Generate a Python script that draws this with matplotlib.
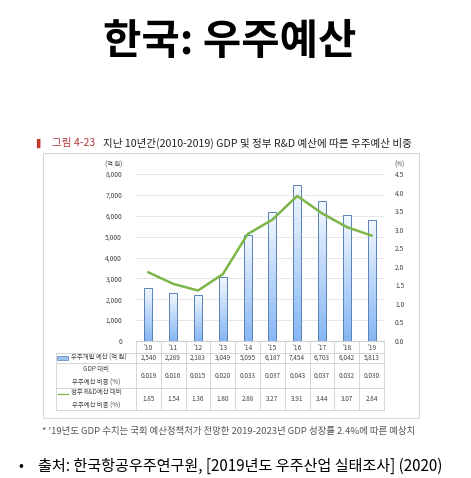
import numpy as np
import matplotlib
matplotlib.use('Agg')
import matplotlib.pyplot as plt
from matplotlib.colors import LinearSegmentedColormap
from matplotlib.patches import Rectangle
from matplotlib.lines import Line2D
import matplotlib.transforms as mtrans

plt.rcParams['font.family'] = ['Noto Sans CJK KR', 'DejaVu Sans']

# --- du lieu ---
years = ["'10", "'11", "'12", "'13", "'14", "'15", "'16", "'17", "'18", "'19"]
budget = [2540, 2289, 2183, 3049, 5095, 6187, 7454, 6703, 6042, 5813]
budget_txt = ['2,540', '2,289', '2,183', '3,049', '5,095', '6,187', '7,454', '6,703', '6,042', '5,813']
gdp_share = ['0.019', '0.016', '0.015', '0.020', '0.033', '0.037', '0.043', '0.037', '0.032', '0.030']
rd_share = [1.85, 1.54, 1.36, 1.80, 2.88, 3.27, 3.91, 3.44, 3.07, 2.84]
row_labels = ['우주개발 예산 (억 원)', 'GDP 대비\n우주예산 비중 (%)', '정부 R&D예산 대비\n우주예산 비중 (%)']

W, H = 471, 478
fig = plt.figure(figsize=(W / 100, H / 100), dpi=100)

def fx(x): return x / W
def fy(y): return 1 - y / H

# tieu de
fig.text(0.487, fy(42), '한국: 우주예산', ha='center', va='center', fontsize=30, fontweight='bold')

# khung bieu do
fig.patches.append(Rectangle((fx(43), fy(418)), fx(419) - fx(43), fy(153) - fy(418),
                             transform=fig.transFigure, fill=False, ec='#d9d9d9', lw=0.8))
fig.text(fx(36), fy(143), '▌', color='#c0392b', fontsize=6.5, va='center', ha='left',
         family=['DejaVu Sans'])
fig.text(fx(52), fy(143), '그림 4-23', color='#b03a3a', fontsize=7.6, va='center', ha='left')
fig.text(fx(103), fy(143), '지난 10년간(2010-2019) GDP 및 정부 R&D 예산에 따른 우주예산 비중',
         color='#222222', fontsize=7.6, va='center', ha='left')

ax = fig.add_axes([fx(136), fy(341), fx(384) - fx(136), fy(174) - fy(341)])
x = np.arange(len(years))
bars = ax.bar(x, budget, width=0.33, color='none', edgecolor='#5b82b5', lw=0.7, zorder=3)
ax.set_ylim(0, 8000)
ax.set_yticks(np.arange(0, 8001, 1000))
ax.set_yticklabels([f'{v:,}' for v in range(0, 8001, 1000)], fontsize=4.8, color='#444444')
ax.yaxis.grid(True, color='#e6e6e6', lw=0.7)
ax.set_axisbelow(True)
for s in ['top', 'right', 'left']:
    ax.spines[s].set_visible(False)
ax.spines['bottom'].set_color('#cfcfcf')
ax.tick_params(axis='y', length=0, pad=10)
ax.set_xticks(x)
ax.set_xticklabels(years, fontsize=4.8, color='#444444')
ax.tick_params(axis='x', length=0, pad=2)

# to mau gradient cho cot
cmap = LinearSegmentedColormap.from_list('g', ['#86b7f4', '#f3f8ff'])
grad = np.linspace(0, 1, 100).reshape(-1, 1)
for b in bars:
    bx, by, bw, bh = b.get_x(), b.get_y(), b.get_width(), b.get_height()
    im = ax.imshow(grad, cmap=cmap, origin='lower', aspect='auto',
                   extent=[bx, bx + bw, by, by + bh], zorder=2)
    im.set_clip_path(b)
ax.set_xlim(-0.5, len(years) - 0.5)
ax.set_ylim(0, 8000)

ax2 = ax.twinx()
ax2.plot(x, rd_share, color='#7cb548', lw=1.8, zorder=4)
ax2.set_ylim(0, 4.5)
ax2.set_yticks(np.arange(0, 4.51, 0.5))
ax2.set_yticklabels([f'{v:.1f}' for v in np.arange(0, 4.51, 0.5)], fontsize=4.8, color='#444444')
ax2.tick_params(axis='y', length=0, pad=8)
for s in ax2.spines.values():
    s.set_visible(False)

fig.text(fx(122), fy(165), '(억 원)', fontsize=4.5, ha='right', va='center', color='#444444')
fig.text(fx(394), fy(165), '(%)', fontsize=4.5, ha='left', va='center', color='#444444')

# bang du lieu
tl, tr = 56, 384
rows_y = [353, 363, 388, 410]
lc = '#d0d0d0'
def hline(y, x0, x1):
    fig.lines.append(Line2D([fx(x0), fx(x1)], [fy(y), fy(y)], transform=fig.transFigure, color=lc, lw=0.6))
def vline(xp, y0, y1):
    fig.lines.append(Line2D([fx(xp), fx(xp)], [fy(y0), fy(y1)], transform=fig.transFigure, color=lc, lw=0.6))
for ry in rows_y:
    hline(ry, tl, tr)
vline(tl, rows_y[0], rows_y[-1])
colw = (tr - 136) / len(years)
for i in range(len(years) + 1):
    vline(136 + i * colw, 341, rows_y[-1])

tr_mix = mtrans.blended_transform_factory(ax.transData, fig.transFigure)
row_vals = [budget_txt, gdp_share, [f'{v:.2f}' for v in rd_share]]
for r, vals in enumerate(row_vals):
    yc = (rows_y[r] + rows_y[r + 1]) / 2
    for i, v in enumerate(vals):
        ax.text(i, fy(yc), v, transform=tr_mix, ha='center', va='center', fontsize=4.6,
                color='#444444', clip_on=False)

# nhan hang
fig.patches.append(Rectangle((fx(57), fy(359.5)), fx(11), fy(356) - fy(359.5), transform=fig.transFigure,
                             fc='#9cc4f2', ec='#5b82b5', lw=0.5))
fig.text(fx(99), fy(358), row_labels[0], fontsize=4.6, ha='center', va='center', color='#444444')
fig.text(fx(96), fy(375.5), row_labels[1], fontsize=4.6, ha='center', va='center', color='#444444',
         linespacing=1.9)
fig.lines.append(Line2D([fx(58), fx(68)], [fy(394), fy(394)], transform=fig.transFigure, color='#7cb548', lw=0.9))
fig.text(fx(96), fy(399), row_labels[2], fontsize=4.6, ha='center', va='center', color='#444444',
         linespacing=1.9)

# chu thich
fig.text(fx(42), fy(431), "* '19년도 GDP 수치는 국회 예산정책처가 전망한 2019-2023년 GDP 성장률 2.4%에 따른 예상치",
         fontsize=6.8, ha='left', va='center', color='#555555')

fig.text(fx(18), fy(466), '•', fontsize=10.5, ha='left', va='center')
fig.text(fx(38), fy(466), '출처: 한국항공우주연구원, [2019년도 우주산업 실태조사] (2020)',
         fontsize=10.9, ha='left', va='center')

fig.savefig('out.png', dpi=100)
